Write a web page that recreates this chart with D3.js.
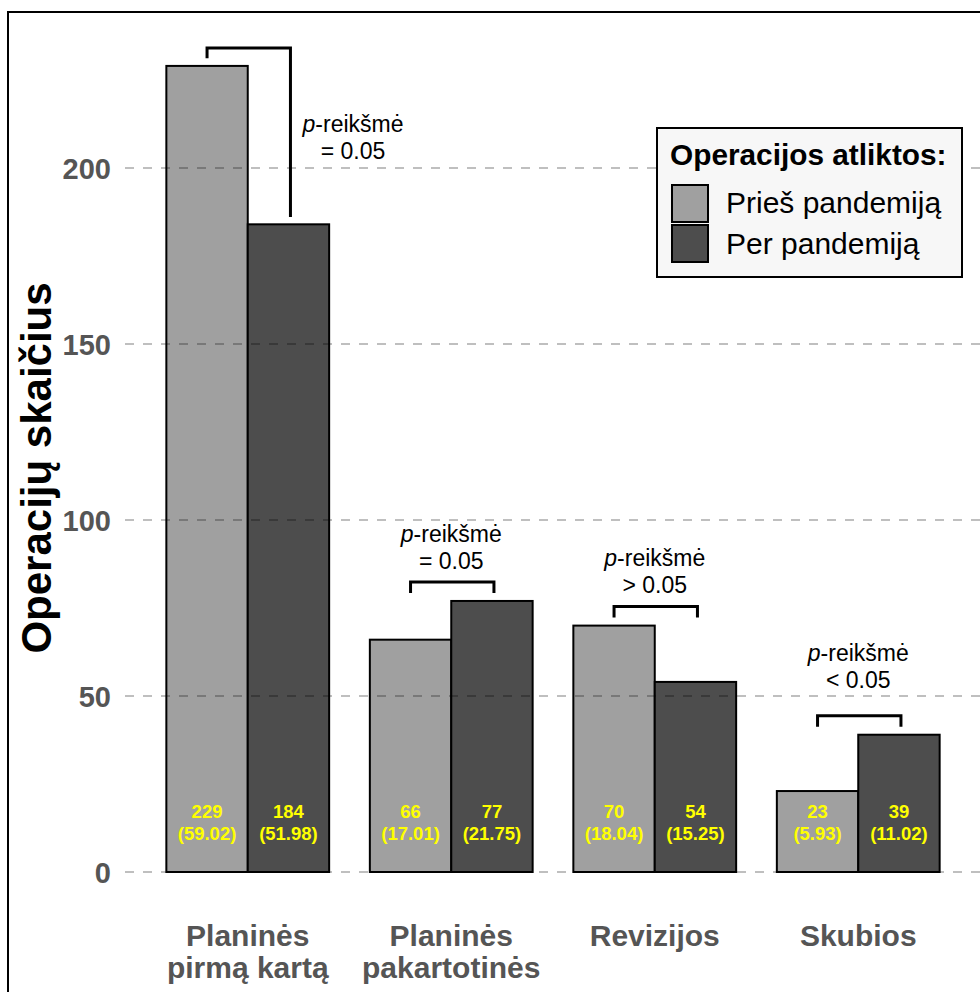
<!DOCTYPE html>
<html>
<head>
<meta charset="utf-8">
<script src="https://cdn.jsdelivr.net/npm/d3@7"></script>
<style>
  html, body { margin: 0; padding: 0; background: #fff; }
  svg { display: block; font-family: "Liberation Sans", Arial, sans-serif; }
</style>
</head>
<body>
<svg id="chart" width="980" height="992"></svg>
<script>
// Operation counts by type, before vs during the pandemic
const categories = [["Planinės", "pirmą kartą"], ["Planinės", "pakartotinės"], ["Revizijos"], ["Skubios"]];
const seriesNames = ["Prieš pandemiją", "Per pandemiją"];
const before = [229, 66, 70, 23];
const during = [184, 77, 54, 39];
const beforePct = ["59.02", "17.01", "18.04", "5.93"];
const duringPct = ["51.98", "21.75", "15.25", "11.02"];
const yTicks = [0, 50, 100, 150, 200];
const pLabels = ["= 0.05", "= 0.05", "> 0.05", "< 0.05"];

const colors = ["#a0a0a0", "#4d4d4d"];

const svg = d3.select("#chart");
const W = 980, H = 992;

// outer panel border (runs off the right/bottom edges)
svg.append("rect").attr("x", 8).attr("y", 12).attr("width", 990).attr("height", 1000)
  .attr("fill", "#fff").attr("stroke", "#000").attr("stroke-width", 2);

const y = d3.scaleLinear().domain([0, 50]).range([872, 696]);
const x0 = d3.scaleBand().domain(d3.range(categories.length)).range([146, 960]).paddingInner(0.2).paddingOuter(0.1);
const x1 = d3.scaleBand().domain([0, 1]).range([0, x0.bandwidth()]);

const groups = categories.map((c, i) => ({
  i, vals: [before[i], during[i]], pcts: [beforePct[i], duringPct[i]]
}));

// bars
const g = svg.append("g");
groups.forEach(d => {
  d.vals.forEach((v, k) => {
    g.append("rect")
      .attr("x", x0(d.i) + x1(k))
      .attr("y", y(v))
      .attr("width", x1.bandwidth())
      .attr("height", y(0) - y(v))
      .attr("fill", colors[k])
      .attr("stroke", "#000")
      .attr("stroke-width", 2);
  });
});

// y axis tick labels
const yAxis = d3.axisLeft(y).tickValues(yTicks).tickSize(0).tickPadding(0);
const ax = svg.append("g").attr("transform", "translate(111,0)").call(yAxis);
ax.select(".domain").remove();
ax.selectAll("text")
  .attr("font-size", 29).attr("font-weight", "bold").attr("fill", "#555")
  .attr("font-family", "Liberation Sans, Arial, sans-serif")
  .attr("dy", "0.36em").attr("x", 0);

// dashed horizontal gridlines, drawn over the bars
svg.append("g").selectAll("line").data(yTicks).join("line")
  .attr("x1", 125).attr("x2", W)
  .attr("y1", d => y(d)).attr("y2", d => y(d))
  .attr("stroke", "#000").attr("stroke-opacity", 0.25)
  .attr("stroke-width", 2).attr("stroke-dasharray", "9,9");

// value labels inside bars
groups.forEach(d => {
  d.vals.forEach((v, k) => {
    const cx = x0(d.i) + x1(k) + x1.bandwidth() / 2;
    const t = svg.append("text").attr("x", cx).attr("y", 818)
      .attr("text-anchor", "middle").attr("font-size", 18.5).attr("font-weight", "bold").attr("fill", "#ffff00");
    t.append("tspan").attr("x", cx).attr("dy", 0).text(v);
    t.append("tspan").attr("x", cx).attr("dy", 22).text("(" + d.pcts[k] + ")");
  });
});

// x category labels
categories.forEach((lines, i) => {
  const cx = x0(i) + x0.bandwidth() / 2;
  const t = svg.append("text").attr("x", cx).attr("y", 946)
    .attr("text-anchor", "middle").attr("font-size", 30).attr("font-weight", "bold").attr("fill", "#555");
  lines.forEach((l, j) => t.append("tspan").attr("x", cx).attr("dy", j ? 32 : 0).text(l));
});

// y axis title
svg.append("text")
  .attr("transform", "translate(51,468) rotate(-90)")
  .attr("text-anchor", "middle").attr("font-size", 42).attr("font-weight", "bold").attr("fill", "#000")
  .text("Operacijų skaičius");

// significance brackets
function bracket(i, topY, leftBottom, rightBottom) {
  const xl = x0(i) + x1(0) + x1.bandwidth() / 2;
  const xr = x0(i) + x1(1) + x1.bandwidth() / 2 + 2;
  svg.append("path")
    .attr("d", `M${xl},${leftBottom}V${topY}H${xr}V${rightBottom}`)
    .attr("fill", "none").attr("stroke", "#000").attr("stroke-width", 3);
}
function pText(cx, baseY, label) {
  const t = svg.append("text").attr("x", cx).attr("y", baseY)
    .attr("text-anchor", "middle").attr("font-size", 23).attr("fill", "#000");
  t.append("tspan").attr("font-style", "italic").text("p");
  t.append("tspan").text("-reikšmė");
  svg.append("text").attr("x", cx).attr("y", baseY + 27)
    .attr("text-anchor", "middle").attr("font-size", 23).attr("fill", "#000").text(label);
}
// first group: tall bracket with its label to the right
bracket(0, y(234.1), y(231.2), y(186.1));
pText(353, 132, pLabels[0]);
// remaining groups: bracket just above the taller bar, label above it
const labelGap = [0, 13, 14, 28];
[1, 2, 3].forEach(i => {
  const top = y(Math.max(before[i], during[i]) + 5.4);
  bracket(i, top, top + 11, top + 11);
  const cx = x0(i) + x0.bandwidth() / 2;
  pText(cx, top - labelGap[i] - 27, pLabels[i]);
});

// legend
const lg = svg.append("g").attr("transform", "translate(657,128)");
lg.append("rect").attr("width", 305).attr("height", 149)
  .attr("fill", "#f7f7f7").attr("stroke", "#000").attr("stroke-width", 2);
lg.append("text").attr("x", 13).attr("y", 37).attr("font-size", 29.8).attr("font-weight", "bold")
  .attr("fill", "#000").text("Operacijos atliktos:");
seriesNames.forEach((s, k) => {
  lg.append("rect").attr("x", 15).attr("y", 57 + k * 40).attr("width", 36).attr("height", 37)
    .attr("fill", colors[k]).attr("stroke", "#000").attr("stroke-width", 2);
  lg.append("text").attr("x", 69).attr("y", 85 + k * 41).attr("font-size", 30)
    .attr("fill", "#000").text(s);
});
</script>
</body>
</html>
